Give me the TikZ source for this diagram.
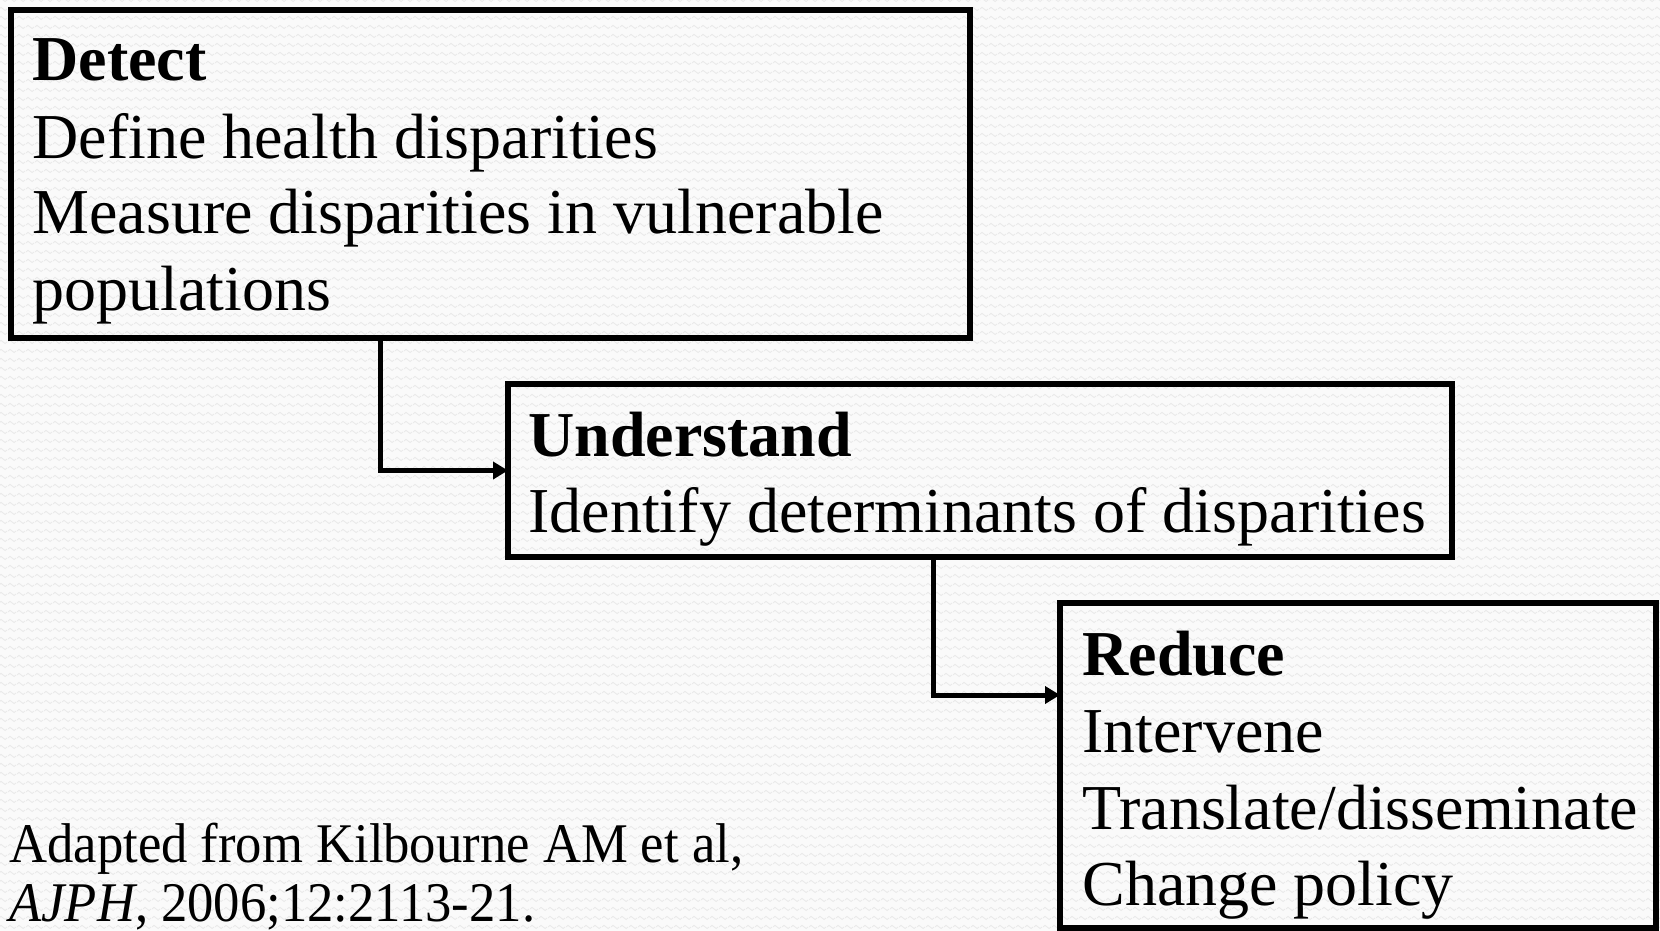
\documentclass[tikz,border=0pt]{standalone}
\usepackage{fontspec}
\usepackage{graphicx}
\setmainfont{Liberation Serif}
\usetikzlibrary{arrows.meta,patterns.meta}
\definecolor{paper}{RGB}{250,250,250}
\definecolor{weave}{RGB}{234,234,234}
% one wave of the background texture
\tikzdeclarepattern{
  name=wavelet,
  type=uncolored,
  bounding box={(0pt,0pt) and (4.5pt,4.5pt)},
  tile size={(4.5pt,4.5pt)},
  code={
    \draw[line width=0.5pt] (0pt,2.25pt) sin (1.125pt,3.1pt) cos (2.25pt,2.25pt)
      sin (3.375pt,1.4pt) cos (4.5pt,2.25pt);
  }
}
\begin{document}
\begin{tikzpicture}[x=0.5pt,y=-0.5pt,
  box/.style={draw=black, line width=2.75pt, rectangle, inner sep=0pt, outer sep=0pt, anchor=north west},
  conn/.style={draw=black, line width=2.5pt, -{Triangle[length=7.5pt,width=8.5pt]}},
  txt/.style={anchor=base west, inner sep=0pt, font=\fontsize{32}{38}\selectfont},
  cite/.style={anchor=base west, inner sep=0pt, font=\fontsize{28}{30}\selectfont}]

% page with a light woven texture
\useasboundingbox (0,0) rectangle (1660,931);
\fill[paper] (0,0) rectangle (1660,931);
\fill[pattern=wavelet, pattern color=weave] (0,0) rectangle (1660,931);

% the three stages
\node[box, minimum width=479.5pt, minimum height=164pt] (detect) at (11,10) {};
\node[box, minimum width=472pt, minimum height=86.5pt] (understand) at (508,384) {};
\node[box, minimum width=298pt, minimum height=162.5pt] (reduce) at (1060,603) {};

\node[txt] (d1) at (32,81) {\textbf{Detect}};
\node[txt] (d2) at (32,158) {Define health disparities};
\node[txt] (d3) at (32,234) {Measure disparities in vulnerable};
\node[txt] (d4) at (32,310) {populations};

\node[txt] (u1) at (528,456) {\textbf{Understand}};
\node[txt] (u2) at (528,532) {Identify determinants of disparities};

\node[txt] (r1) at (1082,675) {\textbf{Reduce}};
\node[txt] (r2) at (1082,752) {Intervene};
\node[txt] (r3) at (1082,829) {Translate/disseminate};
\node[txt] (r4) at (1082,905) {Change policy};

% connectors between stages
\coordinate (s1) at (252,338);
\coordinate (k1) at (380,338);
\draw[conn] (s1) -- (k1) |- (understand.west);

\coordinate (k2) at (933,695);
\draw[conn] (understand.south -| k2) -- (k2) -- (reduce.west |- k2);

% source note
\node[cite] (c1) at (9,862) {\scalebox{0.94}[1]{Adapted from Kilbourne AM et al,}};
\node[cite] (c2) at (9,921) {\scalebox{0.94}[1]{\textit{AJPH}, 2006;12:2113-21.}};
\end{tikzpicture}
\end{document}
